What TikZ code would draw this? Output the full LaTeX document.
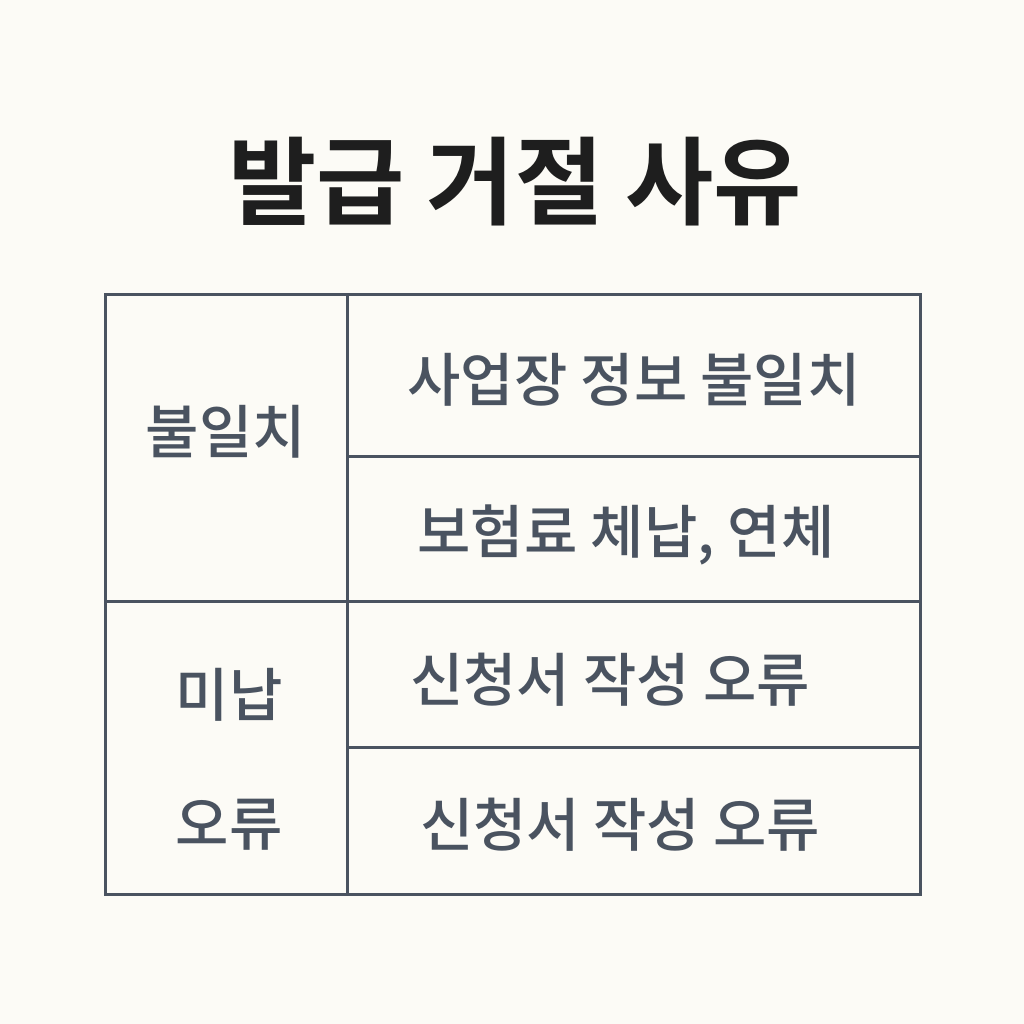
\documentclass[tikz,border=0pt]{standalone}
\usepackage{fontspec}
\newfontfamily\kr{Noto Sans CJK KR}[BoldFont={* Medium}]
\newfontfamily\krb{Noto Sans CJK KR}[BoldFont={* Bold}]
\definecolor{bg}{HTML}{FCFBF6}
\definecolor{ln}{HTML}{4A5360}
\definecolor{tt}{HTML}{1E1E1E}
\begin{document}
\begin{tikzpicture}[x=1pt,y=-1pt,
  cell/.style={text=ln,font=\kr\fontsize{58}{62}\selectfont\bfseries,anchor=center,inner sep=0pt},
  grid/.style={draw=ln,line width=3pt}]
\fill[bg] (0,0) rectangle (1024,1024);
\useasboundingbox (0,0) rectangle (1024,1024);
\node[text=tt,font=\krb\fontsize{96}{100}\selectfont\bfseries] (title) at (515,182) {발급 거절 사유};
\draw[grid] (105,294) rectangle (920,894);
\draw[grid] (347,294) -- (347,894);
\draw[grid] (105,601) -- (920,601);
\draw[grid] (347,456) -- (920,456);
\draw[grid] (347,747) -- (920,747);
\node[cell] (l1) at (226,432) {불일치};
\node[cell] (l2) at (229,695) {미납};
\node[cell] (l3) at (229,825) {오류};
\node[cell] (r1) at (634,380) {사업장 정보 불일치};
\node[cell] (r2) at (626,535) {보험료 체납, 연체};
\node[cell] (r3) at (610,680) {신청서 작성 오류};
\node[cell] (r4) at (620,825) {신청서 작성 오류};
\end{tikzpicture}
\end{document}
